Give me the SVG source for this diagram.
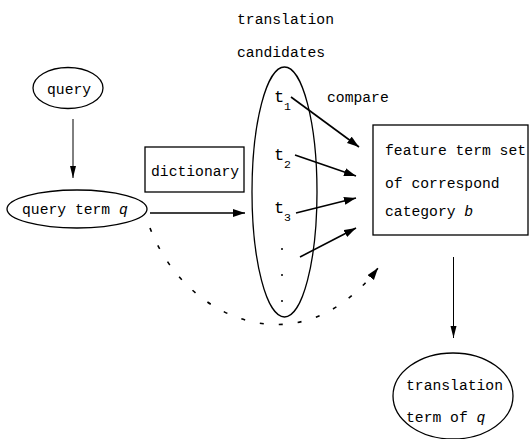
<svg xmlns="http://www.w3.org/2000/svg" width="530" height="439" viewBox="0 0 530 439">
<style>
text{font-family:"Liberation Mono","DejaVu Sans Mono",monospace;font-size:14.7px;fill:#000}
.t{font-size:17px}
.sub{font-size:11.5px}
.it{font-style:italic}
.shape{fill:none;stroke:#000;stroke-width:1.3}
.thick{fill:none;stroke:#000;stroke-width:1.6}
.thin{fill:none;stroke:#000;stroke-width:1}
.dash{fill:none;stroke:#000;stroke-width:1.6;stroke-dasharray:4 15}
</style>
<defs>
<marker id="ah" markerUnits="userSpaceOnUse" markerWidth="14" markerHeight="10" refX="12" refY="4" orient="auto"><path d="M0,0 L12,4 L0,8 z" fill="#000"/></marker>
<marker id="ahs" markerUnits="userSpaceOnUse" markerWidth="14" markerHeight="8" refX="12" refY="3" orient="auto"><path d="M0,0 L12,3 L0,6 z" fill="#000"/></marker>
</defs>
<g id="label-top">
<text x="237" y="24">translation</text>
<text x="237" y="57">candidates</text>
</g>
<g id="query">
<ellipse class="shape" cx="68" cy="88" rx="35" ry="20.5"/>
<text x="47" y="94">query</text>
</g>
<g id="query-term">
<ellipse class="shape" cx="77" cy="209" rx="70" ry="19"/>
<text x="22" y="214">query term <tspan class="it">q</tspan></text>
</g>
<g id="dictionary">
<rect class="shape" x="145" y="147" width="99" height="45"/>
<text x="151" y="176">dictionary</text>
</g>
<g id="candidates">
<ellipse class="shape" cx="284.5" cy="192" rx="32.5" ry="125"/>
<text class="t" x="274" y="102">t</text><text class="sub" x="284" y="110">1</text>
<text class="t" x="274" y="160">t</text><text class="sub" x="284" y="168">2</text>
<text class="t" x="274" y="213">t</text><text class="sub" x="284" y="221">3</text>
<circle cx="282" cy="249" r="1" fill="#000"/>
<circle cx="282" cy="275" r="1" fill="#000"/>
<circle cx="282" cy="301" r="1" fill="#000"/>
</g>
<g id="feature-set">
<rect class="shape" x="373" y="125" width="155" height="110"/>
<text x="385" y="155">feature term set</text>
<text x="385" y="188">of correspond</text>
<text x="385" y="216">category <tspan class="it">b</tspan></text>
</g>
<g id="result">
<ellipse class="shape" cx="453" cy="396" rx="60" ry="43"/>
<text x="406" y="390">translation</text>
<text x="406" y="422">term of <tspan class="it">q</tspan></text>
</g>
<g id="connectors">
<line class="thin" x1="73" y1="119" x2="73" y2="178" marker-end="url(#ahs)"/>
<line class="thick" x1="150" y1="213" x2="245" y2="213" marker-end="url(#ah)"/>
<line class="thick" x1="291" y1="97" x2="359" y2="147" marker-end="url(#ah)"/>
<line class="thick" x1="295" y1="155" x2="356" y2="176" marker-end="url(#ah)"/>
<line class="thick" x1="296" y1="213" x2="356" y2="198" marker-end="url(#ah)"/>
<line class="thick" x1="300" y1="257" x2="356" y2="228" marker-end="url(#ah)"/>
<path class="dash" d="M150,228 C185,320 300,370 378,268" marker-end="url(#ah)"/>
<line class="thin" x1="453.5" y1="257" x2="453.5" y2="338" marker-end="url(#ahs)"/>
<text x="327" y="102">compare</text>
</g>
</svg>
